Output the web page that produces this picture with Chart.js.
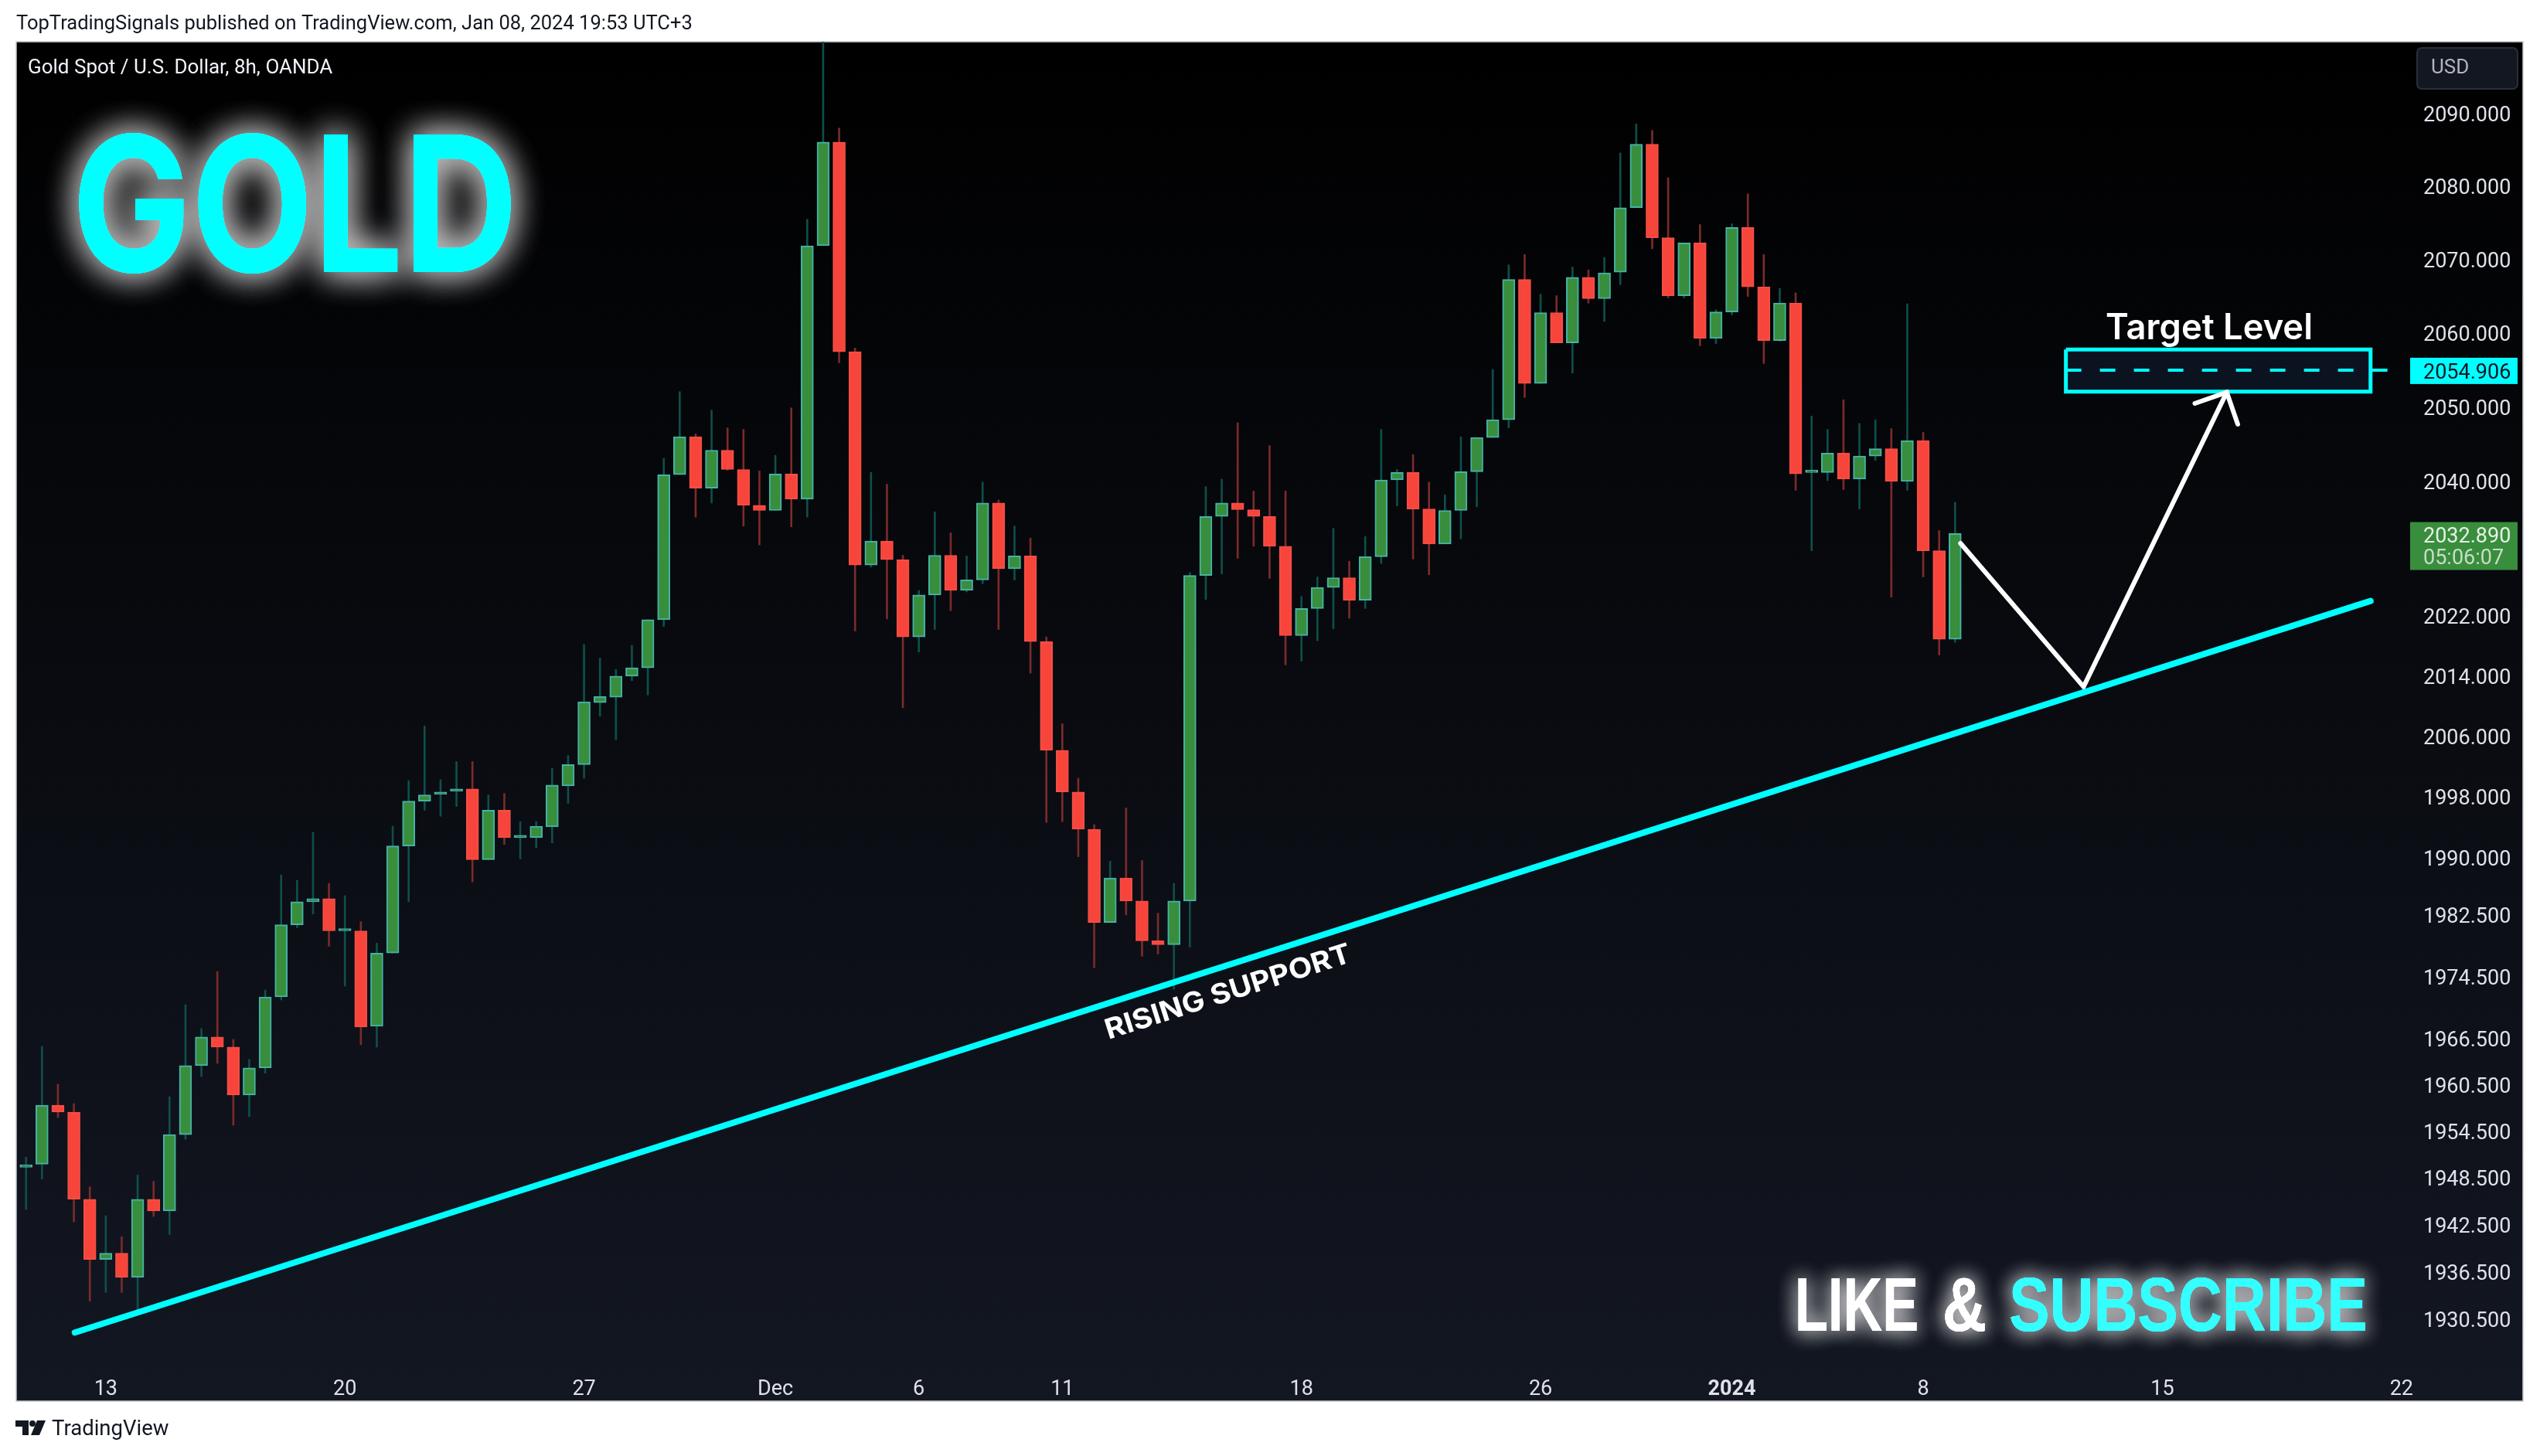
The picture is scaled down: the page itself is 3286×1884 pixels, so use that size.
<!DOCTYPE html>
<html>
<head>
<meta charset="utf-8">
<title>Gold Spot / U.S. Dollar</title>
<script src="https://cdn.jsdelivr.net/npm/chart.js@4/dist/chart.umd.min.js"></script>
<style>
  html, body { margin: 0; padding: 0; background: #fff; }
  canvas { display: block; }
</style>
</head>
<body>
<canvas id="goldChart" width="3286" height="1884" style="width:3286px;height:1884px"></canvas>
<script>
  // 8h candles
  const opens = [1950.0,1949.8,1950.2,1957.8,1956.9,1945.7,1938.0,1938.8,1935.7,1945.7,1944.2,1954.0,1962.9,1966.6,1965.3,1959.1,1962.6,1971.8,1981.2,1984.2,1984.6,1980.4,1980.4,1968.0,1977.5,1991.5,1997.4,1998.3,1998.7,1999.0,1989.7,1996.2,1992.6,1992.6,1994.0,1999.4,2002.2,2010.4,2011.1,2013.9,2015.0,2021.4,2040.8,2045.9,2039.0,2044.1,2041.5,2036.7,2036.0,2040.9,2037.5,2071.8,2086.0,2057.4,2028.7,2031.9,2029.4,2019.1,2024.7,2030.0,2025.3,2026.7,2037.0,2028.2,2029.9,2018.5,2004.1,1998.6,1993.7,1981.5,1987.3,1984.3,1979.1,1978.6,1984.3,2027.3,2035.2,2037.0,2036.1,2035.2,2031.2,2019.3,2022.9,2025.7,2027.0,2024.0,2029.8,2040.1,2041.1,2036.2,2031.5,2036.0,2041.2,2045.8,2048.2,2067.2,2053.1,2062.7,2058.6,2067.5,2064.6,2068.2,2077.0,2085.7,2072.9,2065.0,2072.2,2059.2,2062.8,2074.3,2066.2,2058.9,2064.0,2041.1,2041.1,2043.7,2040.2,2043.3,2044.3,2039.9,2045.4,2030.6,2018.8];
  const highs = [1950.4,1951.1,1965.4,1960.5,1958.0,1947.3,1943.6,1940.9,1948.8,1948.0,1958.9,1970.8,1967.7,1975.1,1966.3,1963.7,1972.7,1987.7,1987.0,1993.3,1986.6,1985.0,1981.6,1978.8,1994.1,2000.1,2007.3,2000.2,2002.6,2002.6,1998.2,1998.4,1994.7,1994.7,2001.7,2003.4,2018.1,2016.3,2014.8,2018.0,2021.4,2043.0,2052.0,2046.3,2049.5,2047.1,2046.9,2041.3,2043.4,2049.8,2075.4,2101.0,2087.9,2057.9,2041.1,2039.5,2030.0,2025.3,2035.8,2033.0,2029.9,2039.8,2037.4,2033.9,2032.3,2019.1,2007.6,2000.4,1994.3,1989.5,1996.5,1989.6,1982.7,1986.6,2027.7,2039.2,2040.2,2047.8,2038.6,2044.7,2038.6,2024.5,2027.1,2033.6,2029.2,2032.5,2046.9,2041.5,2043.5,2039.8,2038.1,2045.9,2045.8,2055.0,2069.2,2070.6,2065.2,2065.0,2068.9,2068.5,2070.2,2084.5,2088.5,2087.6,2081.1,2072.2,2074.7,2063.1,2074.8,2078.9,2070.6,2066.0,2065.4,2048.7,2046.9,2050.9,2047.7,2048.2,2047.0,2063.9,2046.5,2033.3,2037.1];
  const lows = [1949.6,1944.4,1948.3,1956.2,1942.8,1932.7,1933.8,1933.8,1931.2,1943.5,1941.2,1953.4,1961.5,1963.2,1955.2,1956.3,1961.9,1971.4,1980.8,1982.6,1978.4,1973.2,1965.6,1965.3,1977.5,1984.2,1996.2,1995.4,1996.7,1986.8,1989.7,1991.7,1989.8,1991.3,1991.9,1997.1,2000.4,2008.6,2005.5,2013.3,2011.4,2020.5,2040.8,2035.1,2037.0,2041.4,2033.9,2031.4,2036.0,2033.8,2035.1,2071.8,2055.9,2019.9,2028.4,2021.5,2009.7,2017.1,2020.1,2022.6,2025.1,2026.2,2020.1,2026.7,2014.3,1994.6,1994.7,1990.1,1975.6,1981.5,1982.5,1977.1,1977.4,1972.8,1978.3,2024.1,2027.5,2029.6,2031.2,2026.9,2015.4,2015.9,2018.6,2020.2,2021.6,2022.9,2028.9,2036.6,2029.5,2027.4,2031.5,2032.2,2036.5,2045.8,2047.1,2051.2,2053.1,2058.6,2054.5,2064.0,2061.5,2066.5,2077.0,2071.4,2064.7,2064.7,2058.2,2058.5,2062.4,2064.9,2055.8,2058.8,2038.7,2030.6,2040.0,2038.8,2036.2,2042.7,2024.4,2038.7,2027.1,2016.7,2018.4];
  const closes = [1949.8,1950.1,1957.8,1956.9,1945.7,1938.0,1938.8,1935.7,1945.7,1944.2,1954.0,1962.9,1966.6,1965.3,1959.1,1962.6,1971.8,1981.2,1984.2,1984.6,1980.4,1980.5,1967.9,1977.5,1991.5,1997.4,1998.2,1998.6,1998.9,1989.7,1996.2,1992.6,1992.8,1994.1,1999.5,2002.2,2010.5,2011.2,2013.9,2015.0,2021.4,2040.8,2045.9,2039.0,2044.1,2041.5,2036.7,2036.0,2040.9,2037.5,2071.8,2086.0,2057.4,2028.7,2031.9,2029.4,2019.1,2024.7,2030.0,2025.3,2026.7,2037.0,2028.2,2029.9,2018.5,2004.1,1998.6,1993.7,1981.5,1987.3,1984.3,1979.1,1978.6,1984.3,2027.3,2035.2,2037.0,2036.1,2035.2,2031.2,2019.3,2022.9,2025.7,2027.0,2024.0,2029.8,2040.1,2041.1,2036.2,2031.5,2036.0,2041.2,2045.8,2048.2,2067.2,2053.1,2062.7,2058.6,2067.5,2064.6,2068.1,2077.0,2085.7,2072.9,2065.0,2072.2,2059.2,2062.8,2074.3,2066.2,2058.9,2064.0,2040.9,2041.2,2043.7,2040.2,2043.3,2044.3,2039.9,2045.4,2030.6,2018.8,2032.9];

  // axes
  const priceTicks = [2090,2080,2070,2060,2050,2040,2022,2014,2006,1998,1990,1982.5,1974.5,1966.5,1960.5,1954.5,1948.5,1942.5,1936.5,1930.5];
  const timeTickBars = [6,21,36,48,57,66,81,96,108,120,135,150];
  const timeTickLabels = ['13','20','27','Dec','6','11','18','26','2024','8','15','22'];

  // drawings on the chart (bar number, price)
  const supportBars = [4.06, 148.06];
  const supportPrices = [1928.7, 2023.9];
  const pathBars = [122.34, 130.06, 139.04];
  const pathPrices = [2031.6, 2012.5, 2051.9];
  const arrowBars = [137.04, 139.04, 139.73];
  const arrowPrices = [2050.4, 2051.9, 2047.6];
  const targetBars = [128.95, 148.06, 148.06, 128.95, 128.95];
  const targetPrices = [2057.7, 2057.7, 2052.0, 2052.0, 2057.7];
  const targetLineBars = [128.95, 149.2];
  const targetPrice = 2054.906;
  const lastPrice = 2032.89;

  const UP = '#388e3c', UP_EDGE = '#45b3a8', UP_WICK = '#0e4f4a';
  const DOWN = '#f7453b', DOWN_EDGE = '#f44f46', DOWN_WICK = '#7b2b2b';
  const CYAN = '#00ffff';
  const FONT = 'Roboto, sans-serif';

  const isUp = opens.map((o, i) => closes[i] >= o);
  const pairs = (xs, ys) => xs.map((x, i) => ({ x: x, y: ys[i] }));

  function lineSet(data, color, width, extra) {
    return Object.assign({
      type: 'line', data: data, borderColor: color, borderWidth: width,
      pointRadius: 0, tension: 0, fill: false, order: 1,
      borderCapStyle: 'round', borderJoinStyle: 'miter'
    }, extra);
  }

  // text squeezed to fit between two x positions
  function fitText(ctx, text, x0, x1, baseline, font, color, glow) {
    ctx.save();
    ctx.font = font;
    ctx.textAlign = 'left';
    ctx.textBaseline = 'alphabetic';
    const sx = (x1 - x0) / ctx.measureText(text).width;
    ctx.translate(x0, baseline);
    ctx.scale(sx, 1);
    ctx.fillStyle = color;
    if (glow) {
      ctx.shadowColor = glow.color;
      ctx.shadowBlur = glow.blur;
      ctx.fillText(text, 0, 0);
      ctx.fillText(text, 0, 0);
    }
    ctx.fillText(text, 0, 0);
    ctx.restore();
  }

  function plainText(ctx, text, x, y, font, color) {
    ctx.font = font;
    ctx.fillStyle = color;
    ctx.textAlign = 'left';
    ctx.textBaseline = 'middle';
    ctx.fillText(text, x, y);
  }

  const framePlugin = {
    id: 'frame',
    beforeDraw: function(chart) {
      const ctx = chart.ctx;
      ctx.save();
      const g = ctx.createLinearGradient(0, 54, 0, 1813);
      g.addColorStop(0, '#000000');
      g.addColorStop(1, '#131722');
      ctx.fillStyle = g;
      ctx.fillRect(21, 54, 3243, 1759);
      ctx.strokeStyle = '#c4c7ce';
      ctx.lineWidth = 1.5;
      ctx.strokeRect(21, 54, 3243, 1759);
      ctx.restore();
    }
  };

  const overlayPlugin = {
    id: 'overlay',
    afterDraw: function(chart) {
      const ctx = chart.ctx;
      const yScale = chart.scales.y;
      ctx.save();

      // header, footer
      plainText(ctx, 'TopTradingSignals published on TradingView.com, Jan 08, 2024 19:53 UTC+3', 21, 32, '25.5px ' + FONT, '#131722');
      plainText(ctx, 'Gold Spot / U.S. Dollar, 8h, OANDA', 36, 88, '26px ' + FONT, '#f0f3fa');
      plainText(ctx, 'TradingView', 67, 1850, '27.5px ' + FONT, '#131722');

      // logo
      ctx.fillStyle = '#131722';
      ctx.beginPath();
      ctx.moveTo(20, 1838); ctx.lineTo(37, 1838); ctx.lineTo(37, 1857); ctx.lineTo(29, 1857);
      ctx.lineTo(29, 1846); ctx.lineTo(20, 1846); ctx.closePath();
      ctx.moveTo(48, 1838); ctx.lineTo(59, 1838); ctx.lineTo(51, 1857); ctx.lineTo(40, 1857);
      ctx.closePath();
      ctx.fill();
      ctx.beginPath();
      ctx.arc(42, 1842, 4, 0, Math.PI * 2);
      ctx.fill();

      // USD button
      ctx.fillStyle = '#131722';
      ctx.strokeStyle = '#2a2e39';
      ctx.lineWidth = 2;
      ctx.beginPath();
      ctx.roundRect(3127, 62, 130, 53, 6);
      ctx.fill();
      ctx.stroke();
      plainText(ctx, 'USD', 3145, 88, '26px ' + FONT, '#b2b5be');

      // price labels on the axis
      const targetY = yScale.getPixelForValue(targetPrice);
      ctx.fillStyle = CYAN;
      ctx.fillRect(3118, targetY - 16, 139, 34);
      plainText(ctx, targetPrice.toFixed(3), 3135, targetY + 4, '27px ' + FONT, '#131722');
      const lastY = yScale.getPixelForValue(lastPrice);
      ctx.fillStyle = UP;
      ctx.fillRect(3118, lastY - 15, 139, 62);
      plainText(ctx, lastPrice.toFixed(3), 3135, lastY + 5, '27px ' + FONT, '#e8f0e8');
      plainText(ctx, '05:06:07', 3135, lastY + 33, '27px ' + FONT, '#c9dcca');

      // big captions
      fitText(ctx, 'GOLD', 93, 670, 352, '700 244px Inter', CYAN, { color: 'rgba(255,255,255,0.5)', blur: 44 });
      const glow = { color: 'rgba(255,255,255,0.5)', blur: 26 };
      fitText(ctx, 'LIKE', 2322, 2482, 1722, 'bold 99px "Liberation Sans"', '#ffffff', glow);
      fitText(ctx, '&', 2513, 2570, 1722, 'bold 99px "Liberation Sans"', '#ffffff', glow);
      fitText(ctx, 'SUBSCRIBE', 2599, 3063, 1722, 'bold 99px "Liberation Sans"', '#33ffff', glow);
      fitText(ctx, 'Target Level', 2724, 2992, 439, '600 46px Inter', '#ffffff');

      // rising support caption follows the trend line
      ctx.translate(1434, 1345);
      ctx.rotate(-17.7 * Math.PI / 180);
      fitText(ctx, 'RISING SUPPORT', 0, 332, 0, '700 36px Inter', '#ffffff');
      ctx.restore();
    }
  };

  new Chart(document.getElementById('goldChart'), {
    data: {
      datasets: [
        lineSet(pairs(supportBars, supportPrices), CYAN, 8),
        lineSet(pairs(targetBars, targetPrices), CYAN, 5, { fill: 'shape', backgroundColor: '#0b1220', order: 3, borderCapStyle: 'butt' }),
        lineSet(pairs(targetLineBars, [targetPrice, targetPrice]), CYAN, 4, { borderDash: [20, 24], order: 2, borderCapStyle: 'butt' }),
        lineSet(pairs(pathBars, pathPrices), '#ffffff', 6),
        lineSet(pairs(arrowBars, arrowPrices), '#ffffff', 6),
        {
          type: 'bar',
          data: opens.map((o, i) => ({ x: i, y: [o, closes[i]] })),
          backgroundColor: isUp.map(u => u ? UP : DOWN),
          borderColor: isUp.map(u => u ? UP_EDGE : DOWN_EDGE),
          borderWidth: 2,
          borderSkipped: false,
          barThickness: 16,
          maxBarThickness: 16,
          minBarLength: 3,
          grouped: false,
          order: 5
        },
        {
          type: 'bar',
          data: lows.map((l, i) => ({ x: i, y: [l, highs[i]] })),
          backgroundColor: isUp.map(u => u ? UP_WICK : DOWN_WICK),
          borderWidth: 0,
          barThickness: 2,
          maxBarThickness: 2,
          grouped: false,
          order: 6
        }
      ]
    },
    options: {
      responsive: false,
      devicePixelRatio: 1,
      animation: false,
      layout: { padding: { left: 21, top: 54, right: 22, bottom: 71 } },
      plugins: { legend: { display: false }, tooltip: { enabled: false } },
      scales: {
        x: {
          type: 'linear',
          offset: false,
          min: 0.384,
          max: 150.64,
          grid: { display: false },
          border: { display: false },
          afterFit: function(scale) { scale.height = 48; },
          afterBuildTicks: function(scale) { scale.ticks = timeTickBars.map(v => ({ value: v })); },
          ticks: {
            autoSkip: false,
            maxRotation: 0,
            padding: 9,
            color: '#dfe2ea',
            font: function(c) {
              return { family: FONT, size: 27, weight: c.tick && c.tick.value === 108 ? 'bold' : 'normal' };
            },
            callback: function(value) { return timeTickLabels[timeTickBars.indexOf(value)]; }
          }
        },
        y: {
          type: 'logarithmic',
          position: 'right',
          min: 1924.7,
          max: 2099.83,
          grid: { display: false, drawTicks: false },
          border: { display: false },
          afterFit: function(scale) { scale.width = 144; },
          afterBuildTicks: function(scale) { scale.ticks = priceTicks.map(v => ({ value: v })); },
          ticks: {
            autoSkip: false,
            padding: 15,
            labelOffset: 4,
            color: '#dfe2ea',
            font: { family: FONT, size: 27 },
            callback: function(value) { return value.toFixed(3); }
          }
        }
      }
    },
    plugins: [framePlugin, overlayPlugin]
  });
</script>
</body>
</html>
